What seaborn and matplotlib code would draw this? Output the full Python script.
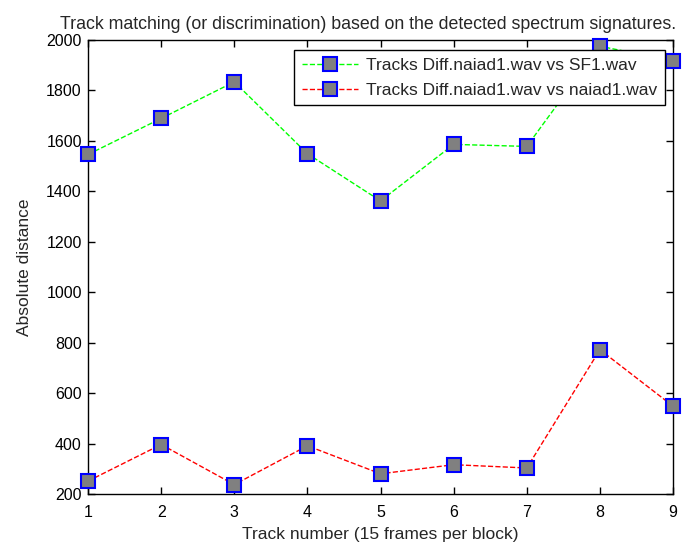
import matplotlib
matplotlib.use("Agg")
import matplotlib.pyplot as plt
import seaborn as sns
import pandas as pd

tracks = [1, 2, 3, 4, 5, 6, 7, 8, 9]
sf1_values = [1546, 1689, 1834, 1549, 1362, 1586, 1578, 1975, 1918]
naiad_values = [251, 396, 237, 391, 280, 316, 303, 772, 548]
series_names = ["Tracks Diff.naiad1.wav vs SF1.wav", "Tracks Diff.naiad1.wav vs naiad1.wav"]
y_ticks = [200, 400, 600, 800, 1000, 1200, 1400, 1600, 1800, 2000]

sns.set_theme(style="ticks")
plt.rcParams['font.family'] = ['Liberation Sans', 'DejaVu Sans']

df = pd.DataFrame({
    "track": tracks * 2,
    "value": sf1_values + naiad_values,
    "series": [series_names[0]] * len(tracks) + [series_names[1]] * len(tracks),
})

fig = plt.figure(figsize=(6.84, 5.44), dpi=100)
ax = fig.add_axes([0.1287, 0.092, 0.984 - 0.1287, 0.9265 - 0.092])

colors = ["#00ff00", "#ff0000"]
for name, col in zip(series_names, colors):
    sub = df[df["series"] == name]
    sns.lineplot(data=sub, x="track", y="value", ax=ax, color=col, linestyle="--",
                 linewidth=1.0, marker="s", markersize=10, markerfacecolor="#808080",
                 markeredgecolor="#0000ff", markeredgewidth=1.5, label=name,
                 clip_on=False, zorder=3)

ax.set_xlim(1, 9)
ax.set_ylim(200, 2000)
ax.set_xticks(tracks)
ax.set_yticks(y_ticks)
ax.tick_params(direction="in", top=True, right=True, length=5, width=1.0,
               labelsize=11.5, colors="black")
ax.tick_params(axis="x", pad=8)
ax.tick_params(axis="y", pad=4.5)
for s in ax.spines.values():
    s.set_linewidth(1.0)
    s.set_color("black")
    s.set_visible(True)

ax.set_xlabel("Track number (15 frames per block)", fontsize=12.5, labelpad=5)
ax.set_ylabel("Absolute distance", fontsize=12.5, labelpad=10)
ax.set_title("Track matching (or discrimination) based on the detected spectrum signatures.",
             fontsize=12.8, pad=8, x=0.479)

leg = ax.legend(loc="upper right", fontsize=12.5, frameon=True, fancybox=False,
                edgecolor="black", framealpha=1, handlelength=3.2,
                bbox_to_anchor=(0.987, 0.978), borderpad=0.45, labelspacing=0.55,
                handletextpad=0.5, borderaxespad=0)
leg.get_frame().set_linewidth(1.0)
leg.set_zorder(5)

fig.savefig("out.png", dpi=100)
